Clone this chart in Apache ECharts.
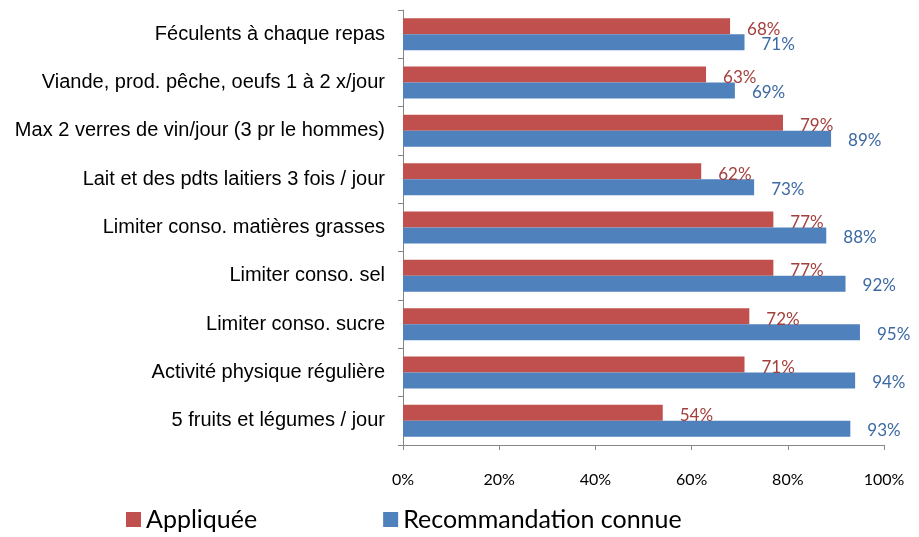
<!DOCTYPE html>
<html>
<head>
<meta charset="utf-8">
<script src="https://cdn.jsdelivr.net/npm/echarts@6/dist/echarts.min.js"></script>
<style>
  html, body { margin: 0; padding: 0; background: #fff; }
  #chart { width: 919px; height: 537px; }
</style>
</head>
<body>
<div id="chart"></div>
<script>
// categories, top to bottom
var categories = [
    "Féculents à chaque repas",
    "Viande, prod. pêche, oeufs 1 à 2 x/jour",
    "Max 2 verres de vin/jour (3 pr le hommes)",
    "Lait et des pdts laitiers 3 fois / jour",
    "Limiter conso. matières grasses",
    "Limiter conso. sel",
    "Limiter conso. sucre",
    "Activité physique régulière",
    "5 fruits et légumes / jour"
];
var appliquee = [68, 63, 79, 62, 77, 77, 72, 71, 54];
var connue = [71, 69, 89, 73, 88, 92, 95, 94, 93];
var xTicks = [0, 20, 40, 60, 80, 100];

var chart = echarts.init(document.getElementById("chart"));

var axisColor = "#868686";

var option = {
    animation: false,
    grid: {
        left: 403,
        right: 35,
        top: 10,
        bottom: 92
    },
    legend: {
        bottom: 0,
        left: 121,
        itemWidth: 15,
        itemHeight: 15,
        itemGap: 126,
        icon: "rect",
        textStyle: {
            fontFamily: "Lato",
            fontSize: 25,
            color: "#000"
        },
        data: ["Appliquée", "Recommandation connue"]
    },
    xAxis: {
        type: "value",
        min: xTicks[0],
        max: xTicks[xTicks.length - 1],
        interval: 20,
        splitLine: { show: false },
        axisLine: { show: true, lineStyle: { color: axisColor } },
        axisTick: { show: true, length: 5, lineStyle: { color: axisColor } },
        axisLabel: {
            formatter: "{value}%",
            margin: 27,
            fontFamily: "Lato",
            fontSize: 16,
            color: "#000"
        }
    },
    yAxis: {
        type: "category",
        inverse: true,
        data: categories,
        axisLine: { show: true, lineStyle: { color: axisColor } },
        axisTick: { show: true, length: 5, lineStyle: { color: axisColor } },
        axisLabel: {
            margin: 18,
            fontFamily: "Liberation Sans",
            fontSize: 20,
            color: "#000"
        }
    },
    series: [
        {
            name: "Appliquée",
            type: "bar",
            data: appliquee,
            barWidth: 16,
            barGap: "0%",
            itemStyle: { color: "#C0504D" },
            label: {
                show: true,
                position: "right",
                distance: 17,
                formatter: "{c}%",
                fontFamily: "Lato",
                fontSize: 17,
                color: "#A33F3C",
                offset: [0, 3]
            }
        },
        {
            name: "Recommandation connue",
            type: "bar",
            data: connue,
            barWidth: 16,
            barGap: "0%",
            itemStyle: { color: "#4F81BD" },
            label: {
                show: true,
                position: "right",
                distance: 17,
                formatter: "{c}%",
                fontFamily: "Lato",
                fontSize: 17,
                color: "#3C69A2",
                offset: [0, 2]
            }
        }
    ]
};

chart.setOption(option);
</script>
</body>
</html>
